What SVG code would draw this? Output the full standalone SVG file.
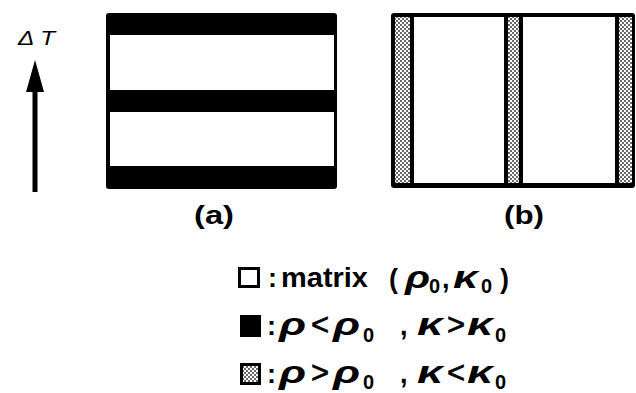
<svg xmlns="http://www.w3.org/2000/svg" width="636" height="393" viewBox="0 0 636 393">
<style>
.lbl{font-family:"Liberation Sans",Arial,sans-serif;font-weight:bold;font-size:26px;fill:#000}
.leg{font-family:"Liberation Sans",Arial,sans-serif;font-weight:bold;font-size:27px;fill:#000}
.op{font-family:"Liberation Sans",Arial,sans-serif;font-size:31px;fill:#000;stroke:#000;stroke-width:0.6}
.gr{font-family:"Liberation Sans",Arial,sans-serif;font-weight:bold;font-style:italic;font-size:32px;fill:#000}
.sub{font-family:"Liberation Sans",Arial,sans-serif;font-weight:bold;font-size:20px;fill:#000}
</style>
<defs>
<pattern id="dots" width="4" height="4" patternUnits="userSpaceOnUse">
<rect width="4" height="4" fill="#fff"/>
<circle cx="1" cy="1" r="0.9" fill="#222"/>
<circle cx="3" cy="3" r="0.9" fill="#222"/>
</pattern>
</defs>
<rect width="636" height="393" fill="#fff"/>
<g id="deltaT">
<text x="18" y="45" font-family="Liberation Sans,Arial,sans-serif" font-style="italic" font-size="21" textLength="37" lengthAdjust="spacingAndGlyphs">Δ T</text>
<polygon points="35,60 26,92 44,92" fill="#000"/>
<rect x="32.5" y="90" width="5" height="102" fill="#000"/>
</g>
<g id="panel-a">
<rect x="106" y="13" width="231" height="176" rx="3" fill="#000"/>
<rect x="110" y="35" width="224" height="55" fill="#fff"/>
<rect x="110" y="112" width="224" height="54" fill="#fff"/>
<text class="lbl" x="194" y="224" textLength="40" lengthAdjust="spacingAndGlyphs">(a)</text>
</g>
<g id="panel-b">
<rect x="391" y="13" width="244" height="175" rx="3" fill="#000"/>
<rect x="395" y="17" width="15" height="166" fill="url(#dots)"/>
<rect x="414" y="17" width="90" height="166" fill="#fff"/>
<rect x="508" y="17" width="11" height="166" fill="url(#dots)"/>
<rect x="523" y="17" width="92" height="166" fill="#fff"/>
<rect x="619" y="17" width="13" height="166" fill="url(#dots)"/>
<text class="lbl" x="504" y="224" textLength="40" lengthAdjust="spacingAndGlyphs">(b)</text>
</g>
<g id="legend-matrix">
<rect x="239.5" y="268.5" width="19" height="18" fill="#fff" stroke="#000" stroke-width="3"/>
<text class="leg" x="268" y="287">:</text>
<text class="leg" x="281" y="287" textLength="87" lengthAdjust="spacingAndGlyphs">matrix</text>
<text class="leg" x="389" y="288">(</text>
<text class="gr" x="405" y="288" textLength="25" lengthAdjust="spacingAndGlyphs">ρ</text>
<text class="sub" x="429" y="293">0</text>
<text class="leg" x="442" y="288">,</text>
<text class="gr" x="453" y="288" textLength="25" lengthAdjust="spacingAndGlyphs">κ</text>
<text class="sub" x="481" y="293">0</text>
<text class="leg" x="500" y="288">)</text>
</g>
<g id="legend-dense">
<rect x="240" y="315" width="21" height="22" fill="#000"/>
<text class="leg" x="267" y="335">:</text>
<text class="gr" x="279" y="335" textLength="27" lengthAdjust="spacingAndGlyphs">ρ</text>
<text class="op" x="311" y="335">&lt;</text>
<text class="gr" x="333" y="335" textLength="27" lengthAdjust="spacingAndGlyphs">ρ</text>
<text class="sub" x="363" y="342">0</text>
<text class="leg" x="400" y="335">,</text>
<text class="gr" x="417" y="335" textLength="26" lengthAdjust="spacingAndGlyphs">κ</text>
<text class="op" x="447" y="335">&gt;</text>
<text class="gr" x="467" y="335" textLength="26" lengthAdjust="spacingAndGlyphs">κ</text>
<text class="sub" x="495" y="342">0</text>
</g>
<g id="legend-light">
<rect x="241.5" y="364.5" width="18" height="19" fill="url(#dots)" stroke="#000" stroke-width="3"/>
<text class="leg" x="267" y="383">:</text>
<text class="gr" x="279" y="383" textLength="27" lengthAdjust="spacingAndGlyphs">ρ</text>
<text class="op" x="311" y="383">&gt;</text>
<text class="gr" x="333" y="383" textLength="27" lengthAdjust="spacingAndGlyphs">ρ</text>
<text class="sub" x="363" y="389">0</text>
<text class="leg" x="400" y="383">,</text>
<text class="gr" x="417" y="383" textLength="26" lengthAdjust="spacingAndGlyphs">κ</text>
<text class="op" x="447" y="383">&lt;</text>
<text class="gr" x="467" y="383" textLength="26" lengthAdjust="spacingAndGlyphs">κ</text>
<text class="sub" x="495" y="389">0</text>
</g>
</svg>
